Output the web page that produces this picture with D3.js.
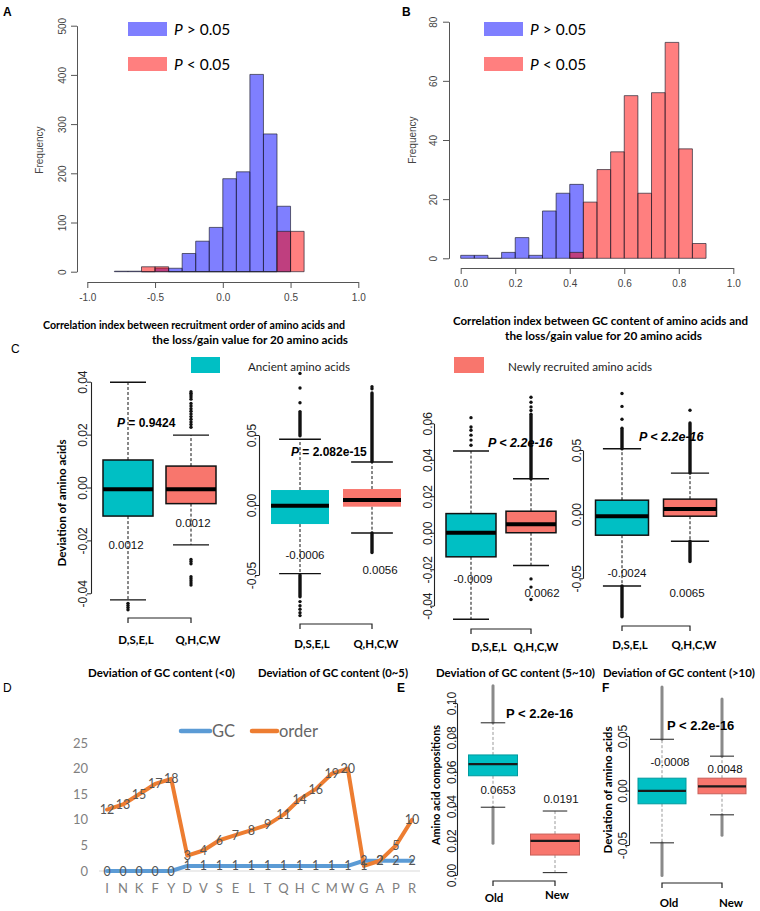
<!DOCTYPE html>
<html><head><meta charset="utf-8">
<script src="https://cdn.jsdelivr.net/npm/d3@7"></script>
<style>body{margin:0;background:#fff}</style>
</head><body>
<svg id="fig" width="760" height="911"></svg>
<script>
// ================= DATA =================
// Panel A: histogram of correlation index (recruitment order), bin width 0.1
const aBinStarts = [-0.8,-0.7,-0.6,-0.5,-0.4,-0.3,-0.2,-0.1,0.0,0.1,0.2,0.3,0.4,0.5];
const aNonSig    = [1,1,0,7,7,37,62,90,189,203,401,280,133,null];
const aSig       = [null,null,10,10,0,0,0,0,0,0,0,0,82,82];
const aTicksX = [-1.0,-0.5,0.0,0.5,1.0];
const aTicksY = [0,100,200,300,400,500];

// Panel B: histogram of correlation index (GC content), bin width 0.05
const bBinStarts = [0,0.05,0.1,0.15,0.2,0.25,0.3,0.35,0.4,0.45,0.5,0.55,0.6,0.65,0.7,0.75,0.8,0.85];
const bNonSig    = [1,1,0,2,7,1,16,22,25,null,null,null,null,null,null,null,null,null];
const bSig       = [null,null,null,null,null,null,null,null,2,19,30,36,55,22,56,73,37,5];
const bTicksX = [0.0,0.2,0.4,0.6,0.8,1.0];
const bTicksY = [0,20,40,60,80];

// Panel C: boxplots [lower whisker, Q1, median, Q3, upper whisker]
const cGroups = ["D,S,E,L","Q,H,C,W"];
const cTitles = ["Deviation of GC content (<0)","Deviation of GC content (0~5)","Deviation of GC content (5~10)","Deviation of GC content (>10)"];
const cAncientStats = [
  [-0.0425,-0.0108,-0.0007,0.0104,0.0398],
  [-0.0490,-0.0136,-0.0005,0.0107,0.0470],
  [-0.0474,-0.0132, 0.0000,0.0105,0.0448],
  [-0.0560,-0.0164,-0.0016,0.0109,0.0510]
];
const cNewStats = [
  [-0.0217,-0.0061,-0.0007,0.0081,0.0198],
  [-0.0200,-0.0012, 0.0036,0.0114,0.0307],
  [-0.0180, 0.0000, 0.0046,0.0118,0.0296],
  [-0.0211,-0.0016, 0.0040,0.0117,0.0320]
];
const cAncientOutliers = [
  [-0.0438,-0.0446,-0.0454,-0.0462],
  [0.094,0.0836,0.073,-0.069,-0.072,-0.0745,-0.077,-0.079],
  [0.0631,0.058,0.0562,0.0535,0.0508,0.048],
  [0.094,0.084,0.074]
];
const cNewOutliers = [
  [0.0362,0.0356,0.035,0.0342,0.0334,0.0318,0.0308,0.0298,0.0288,0.0278,0.0268,0.0258,0.0248,0.0238,0.0228,
   -0.0272,-0.028,-0.0288,-0.0337,-0.0345,-0.0353,-0.0361,-0.0369],
  [0.083,0.0845],
  [0.0743,0.0715,0.069,0.067,-0.0253,-0.0298,-0.0366],
  [0.081]
];
// dense runs of outliers [from, to]
const cAncientRuns = [[], [[0.0495,0.0667],[-0.0655,-0.05]], [], [[0.051,0.067],[-0.08,-0.056]]];
const cNewRuns     = [[], [[0.031,0.080],[-0.034,-0.020]], [[0.0296,0.065]], [[0.032,0.071],[-0.037,-0.0211]]];
const cPRest = [" = 0.9424"," = 2.082e-15"," < 2.2e-16"," < 2.2e-16"];
const cAncientLabels = ["0.0012","-0.0006","-0.0009","-0.0024"];
const cNewLabels     = ["0.0012","0.0056","0.0062","0.0065"];
const cTicks = [[-0.04,-0.02,0,0.02,0.04],[-0.05,0,0.05],[-0.04,-0.02,0,0.02,0.04,0.06],[-0.05,0,0.05]];

// Panel D: line chart
const dCategories = ["I","N","K","F","Y","D","V","S","E","L","T","Q","H","C","M","W","G","A","P","R"];
const dGC    = [0,0,0,0,0,1,1,1,1,1,1,1,1,1,1,1,2,2,2,2];
const dOrder = [12,13,15,17,18,3,4,6,7,8,9,11,14,16,19,20,1,2,5,10];
const dTicksY = [0,5,10,15,20,25];

// Panels E, F: boxplots
const efGroups = ["Old","New"];
const efOldStats = [[0.0394,0.0577,0.0645,0.0698,0.0885],[-0.048,-0.0122,-0.0003,0.0113,0.047]];
const efNewStats = [[0.0014,0.0116,0.0198,0.0238,0.0372],[-0.0223,-0.003,0.0037,0.0113,0.0315]];
const efOldRuns  = [[[0.0885,0.110],[0.0185,0.0394]],[[0.047,0.095],[-0.078,-0.048]]];
const efNewRuns  = [[],[[0.0315,0.084],[-0.041,-0.0223]]];
const efOldLabels = ["0.0653","-0.0008"];
const efNewLabels = ["0.0191","0.0048"];
const efTicks = [[0,0.02,0.04,0.06,0.08,0.10],[-0.05,0,0.05]];
const efYTitles = ["Amino acid compositions","Deviation of amino acids"];

// ================= DRAW =================
const svg = d3.select("#fig");
const SANS = "'Liberation Sans', Arial, sans-serif";
const CAL = "Lato, 'Open Sans', sans-serif";
const TEAL = "#00BFC4", SALMON = "#F8766D";

function txt(g, x, y, s, o = {}) {
  const t = g.append("text").attr("x", x).attr("y", y).text(s)
    .attr("font-family", o.ff || SANS).attr("font-size", o.fs || 11)
    .attr("fill", o.fill || "#000").attr("text-anchor", o.anchor || "start");
  if (o.bold) t.attr("font-weight", "bold");
  if (o.italic) t.attr("font-style", "italic");
  if (o.len) t.attr("textLength", o.len).attr("lengthAdjust", "spacingAndGlyphs");
  if (o.rot) t.attr("transform", `rotate(${o.rot},${x},${y})`);
  return t;
}

// ---------- Histograms ----------
function histPanel(o) {
  const g = svg.append("g");
  const x = d3.scaleLinear().domain(o.xDomain).range(o.xRange);
  const y = d3.scaleLinear().domain(o.yDomain).range(o.yRange);
  [[o.nonSig, "#0000ff"], [o.sig, "#ff0000"]].forEach(([vals, col]) => {
    const data = o.bins.map((b, i) => ({ b, v: vals[i] })).filter(d => d.v !== null);
    g.append("g").selectAll("path").data(data).join("path")
      .attr("d", d => { const x0 = x(d.b), x1 = x(d.b + o.bw), y0 = y(0), y1 = y(d.v);
        return `M${x0},${y0}V${y1}H${x1}V${y0}Z`; })
      .attr("fill", col).attr("fill-opacity", 0.5)
      .attr("stroke", "#202030").attr("stroke-width", 0.8).attr("stroke-opacity", 0.85);
  });
  const yAx = g.append("g").attr("transform", `translate(${o.yAxisX},0)`)
    .call(d3.axisLeft(y).tickValues(o.yTicks).tickSize(6).tickSizeOuter(0).tickFormat(d => d));
  yAx.select(".domain").attr("stroke", "#555");
  yAx.selectAll(".tick line").attr("stroke", "#555");
  yAx.selectAll("text").attr("x", 0).attr("dy", null).attr("text-anchor", "middle")
    .attr("transform", `translate(${-o.yLabOff},0) rotate(-90)`)
    .attr("font-family", SANS).attr("font-size", 10).attr("fill", "#444");
  const xAx = g.append("g").attr("transform", `translate(0,${o.xAxisY})`)
    .call(d3.axisBottom(x).tickValues(o.xTicks).tickSize(6).tickSizeOuter(0).tickFormat(d => d.toFixed(1)));
  xAx.select(".domain").attr("stroke", "#555");
  xAx.selectAll(".tick line").attr("stroke", "#555");
  xAx.selectAll("text").attr("y", 19).attr("dy", null)
    .attr("font-family", SANS).attr("font-size", 10).attr("fill", "#444");
  txt(g, o.freqX, o.freqY, "Frequency", { fs: 10, fill: "#444", anchor: "middle", rot: -90 });
  // legend
  [["#0000ff", "P", " > 0.05", o.legY[0]], ["#ff0000", "P", " < 0.05", o.legY[1]]].forEach(([c, p, r, ly]) => {
    g.append("rect").attr("x", o.legX).attr("y", ly).attr("width", 39).attr("height", 14)
      .attr("fill", c).attr("fill-opacity", 0.5);
    const t = g.append("text").attr("x", o.legX + 46).attr("y", ly + 13)
      .attr("font-family", CAL).attr("font-size", 15.5).attr("fill", "#000");
    t.append("tspan").attr("font-style", "italic").text(p);
    t.append("tspan").text(r);
  });
  o.title.forEach(l => txt(g, l[0], l[1], l[2], { ff: CAL, fs: 11.5, bold: true, len: l[3] }));
}

histPanel({
  bins: aBinStarts, bw: 0.1, nonSig: aNonSig, sig: aSig,
  xDomain: [-1, 1], xRange: [87.3, 358.3], yDomain: [0, 500], yRange: [271.7, 25.7],
  yTicks: aTicksY, xTicks: aTicksX, yAxisX: 77, xAxisY: 282, yLabOff: 11,
  freqX: 43, freqY: 150, legX: 128, legY: [22, 57],
  title: [[43, 329, "Correlation index between recruitment order of amino acids and", 302],
          [152, 344, "the loss/gain value for 20 amino acids", 196]]
});
histPanel({
  bins: bBinStarts, bw: 0.05, nonSig: bNonSig, sig: bSig,
  xDomain: [0, 1], xRange: [460.7, 733.3], yDomain: [0, 80], yRange: [258.3, 21.7],
  yTicks: bTicksY, xTicks: bTicksX, yAxisX: 449, xAxisY: 268, yLabOff: 12,
  freqX: 416, freqY: 140, legX: 484, legY: [22, 57],
  title: [[453, 325, "Correlation index between GC content of amino acids and", 295],
          [505, 340, "the loss/gain value for 20 amino acids", 197]]
});

// panel letters
txt(svg, 3, 16, "A", { fs: 12, bold: true });
txt(svg, 402, 16, "B", { fs: 12, bold: true });
txt(svg, 11, 353, "C", { fs: 12 });
txt(svg, 3, 692, "D", { fs: 12 });
txt(svg, 397, 692, "E", { fs: 12, bold: true });
txt(svg, 602, 692, "F", { fs: 12, bold: true });

// ---------- Boxplots ----------
function boxPanel(L) {
  const g = svg.append("g");
  const y = d3.scaleLinear().domain([L.ref[0][0], L.ref[1][0]]).range([L.ref[0][1], L.ref[1][1]]);
  const x = d3.scaleLinear().domain([1, 2]).range(L.centers);
  const t = L.ticks;
  const ys = y.copy().domain([t[0], t[t.length - 1]]).range([y(t[0]), y(t[t.length - 1])]);
  const ax = g.append("g").attr("transform", `translate(${L.axisX},0)`)
    .call(d3.axisLeft(ys).tickValues(t).tickSize(4).tickSizeOuter(0).tickFormat(d => d.toFixed(2)));
  ax.select(".domain").attr("stroke", "#222").attr("stroke-width", 1.1);
  ax.selectAll(".tick line").attr("stroke", "#222");
  ax.selectAll("text").attr("x", 0).attr("dy", null).attr("text-anchor", "middle")
    .attr("transform", `translate(${-L.labOff},0) rotate(-90)`)
    .attr("font-family", SANS).attr("font-size", 12).attr("fill", "#222");

  L.groups.forEach((G, i) => {
    const cx = x(i + 1), hw = L.boxW / 2, cw = L.boxW * L.capFrac / 2;
    const [lo, q1, med, q3, hi] = G.stats;
    const wg = g.append("g");
    wg.selectAll("line.w").data([[q3, hi], [q1, lo]]).join("line")
      .attr("x1", cx).attr("x2", cx).attr("y1", d => y(d[0])).attr("y2", d => y(d[1]))
      .attr("stroke", L.whiskCol).attr("stroke-width", 1).attr("stroke-dasharray", "3,2");
    // outliers
    wg.selectAll("line.r").data(G.runs).join("line")
      .attr("x1", cx).attr("x2", cx).attr("y1", d => y(d[0])).attr("y2", d => y(d[1]))
      .attr("stroke", L.outCol).attr("stroke-width", L.runW).attr("stroke-linecap", "round");
    wg.selectAll("circle").data(G.out).join("circle")
      .attr("cx", cx).attr("cy", d => y(d)).attr("r", 1.7).attr("fill", L.outCol);
    wg.selectAll("line.c").data([hi, lo]).join("line")
      .attr("x1", cx - cw).attr("x2", cx + cw).attr("y1", d => y(d)).attr("y2", d => y(d))
      .attr("stroke", L.capCol).attr("stroke-width", L.capW);
    wg.append("rect").attr("x", cx - hw).attr("width", L.boxW)
      .attr("y", y(q3)).attr("height", y(q1) - y(q3))
      .attr("fill", G.fill).attr("stroke", L.boxStroke ? L.boxStroke : d3.color(G.fill).darker(0.6))
      .attr("stroke-width", L.boxSW);
    wg.append("line").attr("x1", cx - hw).attr("x2", cx + hw).attr("y1", y(med)).attr("y2", y(med))
      .attr("stroke", L.medCol).attr("stroke-width", L.medW);
    txt(g, G.lab[0], G.lab[1], G.label, { fs: 11.5, anchor: "middle", fill: "#111" });
    txt(g, L.grpLabX[i], L.grpLabY[i], L.groupNames[i], { ff: CAL, fs: 11.5, bold: true, anchor: "middle" });
  });
  // bracket
  g.append("path").attr("d", `M${x(1)},${L.bracketY + 5}V${L.bracketY}H${x(2)}V${L.bracketY + 5}`)
    .attr("fill", "none").attr("stroke", "#222").attr("stroke-width", 1.2);
  // P value
  const pt = g.append("text").attr("x", L.p[0]).attr("y", L.p[1]).attr("font-family", SANS)
    .attr("font-size", L.pFs).attr("font-weight", "bold");
  pt.append("tspan").attr("font-style", "italic").text("P");
  pt.append("tspan").attr("font-style", L.pItalic ? "italic" : "normal").text(L.pRest);
  return g;
}

const cLayout = [
  { axisX: 91, ref: [[-0.04, 593.3], [0.04, 381.7]], centers: [128, 191], boxW: 50, labOff: 4, bracketY: 618,
    grpLabX: [136, 198], grpLabY: [644, 644], titleX: 88, titleW: 147, p: [117, 427], labs: [[126, 549], [193, 527]], boxStroke: "#111" },
  { axisX: 259, ref: [[-0.05, 575], [0.05, 435]], centers: [300, 372], boxW: 58, labOff: 3, bracketY: 624,
    grpLabX: [312, 376], grpLabY: [648, 648], titleX: 258, titleW: 150, p: [291, 456], labs: [[305, 559], [380, 574]], boxStroke: null },
  { axisX: 434, ref: [[-0.04, 605.7], [0.06, 423.3]], centers: [471, 531], boxW: 50, labOff: 2, bracketY: 629,
    grpLabX: [489, 536], grpLabY: [651, 651], titleX: 436, titleW: 159, p: [488, 447], labs: [[473, 583], [542, 597]], boxStroke: "#111", pItalic: true },
  { axisX: 583, ref: [[-0.05, 578.3], [0.05, 450]], centers: [622, 690], boxW: 53, labOff: 2, bracketY: 626,
    grpLabX: [630, 694], grpLabY: [649, 649], titleX: 603, titleW: 152, p: [639, 441], labs: [[627, 577], [687, 597]], boxStroke: "#111", pItalic: true }
];
cLayout.forEach((L, k) => {
  const g = boxPanel(Object.assign({}, L, {
    ticks: cTicks[k], groupNames: cGroups, capFrac: 0.72, capW: 1.4, capCol: "#111",
    whiskCol: "#111", outCol: "#111", runW: 3.4, boxSW: 1.5, medCol: "#000", medW: 4,
    pFs: L.pItalic ? 12.5 : 12, pRest: cPRest[k],
    groups: [
      { stats: cAncientStats[k], out: cAncientOutliers[k], runs: cAncientRuns[k], fill: TEAL, label: cAncientLabels[k], lab: L.labs[0] },
      { stats: cNewStats[k], out: cNewOutliers[k], runs: cNewRuns[k], fill: SALMON, label: cNewLabels[k], lab: L.labs[1] }
    ]
  }));
  if (!L.boxStroke) g.selectAll("rect").attr("stroke", null);
  txt(svg, L.titleX, 677, cTitles[k], { ff: CAL, fs: 11.5, bold: true, len: L.titleW });
});
txt(svg, 66, 503, "Deviation of amino acids", { ff: CAL, fs: 12, bold: true, anchor: "middle", rot: -90, len: 127 });
// C legend
svg.append("rect").attr("x", 191).attr("y", 357).attr("width", 29).attr("height", 16).attr("fill", TEAL);
txt(svg, 248, 371, "Ancient amino acids", { ff: CAL, fs: 11.5, fill: "#222", len: 102 });
svg.append("rect").attr("x", 454).attr("y", 357).attr("width", 30).attr("height", 16).attr("fill", SALMON);
txt(svg, 508, 371, "Newly recruited amino acids", { ff: CAL, fs: 11.5, fill: "#222", len: 144 });

// E & F
const efLayout = [
  { axisX: 457, ref: [[0, 875], [0.1, 703]], centers: [493, 555], boxW: 49, labOff: 1, bracketY: 881,
    grpLabX: [494, 557], grpLabY: [902, 899], p: [506, 718], labs: [[498, 794], [561, 803]], yt: [440, 785, 120] },
  { axisX: 629, ref: [[-0.05, 845], [0.05, 736]], centers: [662, 722], boxW: 48, labOff: 2, bracketY: 883,
    grpLabX: [669, 731], grpLabY: [907, 907], p: [667, 730], labs: [[670, 766], [725, 773]], yt: [612, 790, 127] }
];
efLayout.forEach((L, k) => {
  boxPanel(Object.assign({}, L, {
    ticks: efTicks[k], groupNames: efGroups, capFrac: 0.5, capW: 1.1, capCol: "#333",
    whiskCol: "#999", outCol: "#8a8a8a", runW: 3, boxSW: 1, medCol: "#1a1a1a", medW: 2.2,
    pFs: 13, pRest: " < 2.2e-16", pItalic: false, boxStroke: null,
    groups: [
      { stats: efOldStats[k], out: [], runs: efOldRuns[k], fill: TEAL, label: efOldLabels[k], lab: L.labs[0] },
      { stats: efNewStats[k], out: [], runs: efNewRuns[k], fill: SALMON, label: efNewLabels[k], lab: L.labs[1] }
    ]
  })).select("text tspan");
  // P label in E/F is upright
  txt(svg, L.yt[0], L.yt[1], efYTitles[k], { ff: CAL, fs: 12, bold: true, anchor: "middle", rot: -90, len: L.yt[2] });
});
// make E/F P upright
svg.selectAll("text").filter(function () { return d3.select(this).attr("font-size") == 13; })
  .selectAll("tspan").attr("font-style", "normal");

// ---------- Panel D ----------
(function () {
  const g = svg.append("g");
  const x = d3.scalePoint().domain(dCategories).range([107, 412]);
  const y = d3.scaleLinear().domain([0, 25]).range([871, 743]);
  g.append("line").attr("x1", 99).attr("x2", 420).attr("y1", y(0)).attr("y2", y(0))
    .attr("stroke", "#d9d9d9").attr("stroke-width", 1);
  g.selectAll("text.yt").data(dTicksY).join("text")
    .attr("x", 88).attr("y", d => y(d)).attr("dy", "0.35em").attr("text-anchor", "end")
    .attr("font-family", CAL).attr("font-size", 13).attr("fill", "#7f7f7f").text(d => d);
  g.selectAll("text.xt").data(dCategories).join("text")
    .attr("x", d => x(d)).attr("y", 893).attr("text-anchor", "middle")
    .attr("font-family", CAL).attr("font-size", 13).attr("fill", "#7f7f7f").text(d => d);
  const series = [["GC", dGC, "#5B9BD5"], ["order", dOrder, "#ED7D31"]];
  const line = d3.line().x((d, i) => x(dCategories[i])).y(d => y(d));
  series.forEach(([name, vals, col]) => {
    g.append("path").attr("d", line(vals)).attr("fill", "none").attr("stroke", col)
      .attr("stroke-width", 4).attr("stroke-linejoin", "round").attr("stroke-linecap", "round");
  });
  series.forEach(([name, vals]) => {
    g.selectAll(null).data(vals).join("text")
      .attr("x", (d, i) => x(dCategories[i])).attr("y", d => y(d)).attr("dy", "0.36em")
      .attr("text-anchor", "middle").attr("font-family", CAL).attr("font-size", 12.5)
      .attr("fill", "#555").text(d => d);
  });
  // legend
  g.append("line").attr("x1", 181).attr("x2", 210).attr("y1", 731).attr("y2", 731)
    .attr("stroke", "#5B9BD5").attr("stroke-width", 4.5).attr("stroke-linecap", "round");
  txt(g, 212, 737, "GC", { ff: CAL, fs: 16.5, fill: "#666" });
  g.append("line").attr("x1", 252).attr("x2", 277).attr("y1", 731).attr("y2", 731)
    .attr("stroke", "#ED7D31").attr("stroke-width", 4.5).attr("stroke-linecap", "round");
  txt(g, 279, 737, "order", { ff: CAL, fs: 16.5, fill: "#666" });
})();
</script>
</body></html>
